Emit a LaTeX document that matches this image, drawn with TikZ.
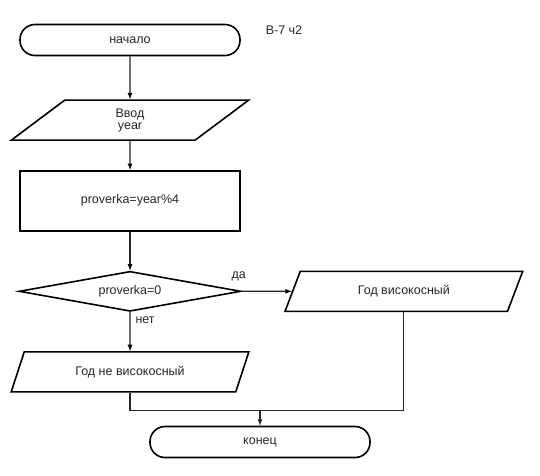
\documentclass[tikz,border=0pt]{standalone}
\usepackage{fontspec}
\setmainfont{Liberation Sans}
\usepackage{tikz}
\usetikzlibrary{arrows,shapes,positioning,calc}

\begin{document}
\begin{tikzpicture}[auto,>=latex,
  font=\fontsize{12.5}{14}\selectfont,
  every node/.style={text=black!85},
  terminal/.style={rectangle,rounded corners=15pt,draw=black,line width=1.6pt,
    minimum width=220pt,minimum height=31pt},
  io/.style={trapezium,trapezium left angle=63.4,trapezium right angle=116.6,
    trapezium stretches=true,draw=black,line width=1.6pt,
    minimum width=238pt,minimum height=40pt,align=center,inner sep=1pt},
  process/.style={rectangle,draw=black,line width=1.6pt,
    minimum width=220pt,minimum height=60pt},
  decision/.style={diamond,draw=black,line width=1.6pt,aspect=5.5,inner sep=0pt,
    minimum width=222pt,minimum height=40pt},
  line/.style={draw=black!85,line width=1.2pt}]
  \useasboundingbox (0,0) rectangle (540pt,-475pt);

  \node[terminal] (start) at (130pt,-40pt) {начало};
  \node[io] (input) [below=43pt of start] {Ввод\\[-2pt]year};
  \node[process] (calc) [below=29pt of input] {proverka=year\%4};
  \node[decision] (check) [below=39pt of calc] {proverka=0};
  \node[io] (leap) [right=50pt of check] {Год високосный};
  \node[io] (noleap) [below=39pt of check] {Год не високосный};
  \node[terminal] (stop) [below=33pt of noleap, xshift=130pt] {конец};
  \node (title) at (284pt,-30pt) {В-7 ч2};
  \coordinate (join) at ($(stop.north)+(0,15pt)$);

  \path[line,->] (start) edge (input)
    (input) edge (calc)
    (calc) edge (check)
    (check) edge (noleap)
    (check) edge (leap);
  \draw[line] (noleap.south) |- (join) -| (leap.south);
  \draw[line,->] (join) -- (stop);

  \node (yes) [above=7pt of check.east, xshift=-3pt] {да};
  \node (no) [below right=1pt and 2pt of check.south] {нет};
\end{tikzpicture}
\end{document}
